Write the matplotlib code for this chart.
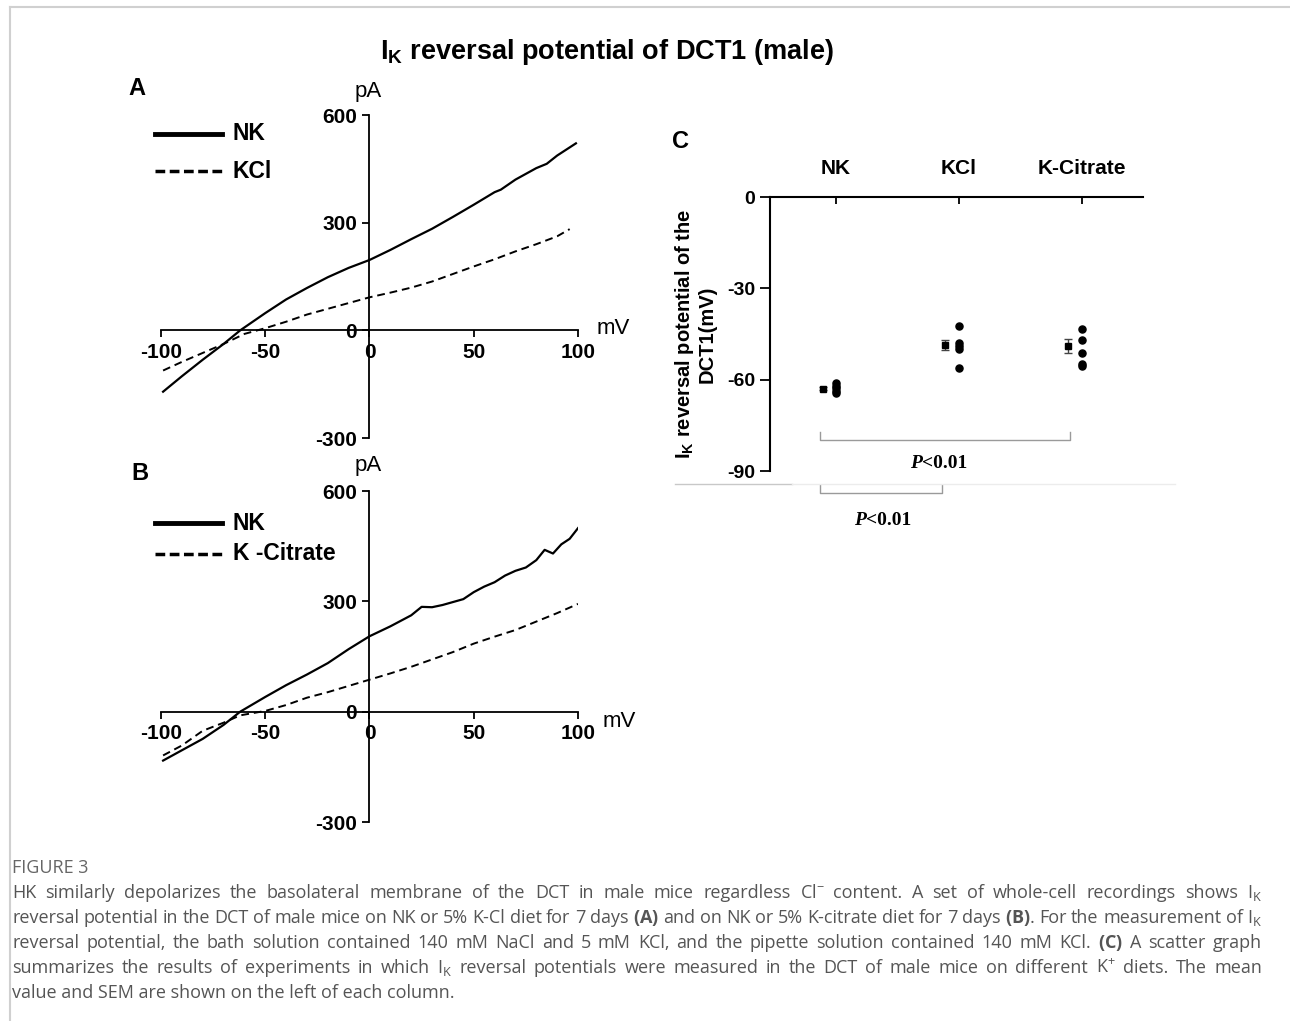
import numpy as np
import matplotlib.pyplot as plt
from matplotlib.lines import Line2D

W, H = 1290, 1021

# panel A: I-V curves, NK vs KCl (mV, pA)
a_nk_mv = [-99, -90, -80, -70, -62, -55, -50, -40, -30, -20, -10, 0, 10, 20, 30, 40, 50, 60, 63, 70, 80, 85, 90, 99]
a_nk_pa = [-171, -128, -82, -38, 0, 28, 48, 86, 118, 148, 174, 196, 224, 254, 283, 316, 350, 385, 392, 420, 452, 464, 487, 521]
a_kcl_mv = [-99, -90, -80, -70, -60, -50, -40, -30, -20, -10, 0, 10, 20, 30, 40, 50, 60, 70, 80, 90, 96]
a_kcl_pa = [-112, -88, -63, -38, -10, 6, 24, 44, 60, 76, 92, 105, 119, 136, 157, 178, 198, 220, 240, 262, 282]

# panel B: NK vs K-Citrate
b_nk_mv = [-99, -90, -80, -70, -62, -50, -40, -30, -20, -10, 0, 10, 20, 25, 30, 35, 40, 45, 50, 55, 60, 65, 70, 75, 80, 84, 88, 92, 96, 100]
b_nk_pa = [-133, -105, -74, -36, 0, 40, 72, 101, 132, 170, 205, 232, 262, 285, 284, 290, 298, 306, 325, 340, 352, 370, 383, 392, 412, 440, 430, 455, 470, 499]
b_cit_mv = [-99, -90, -80, -70, -62, -50, -40, -30, -20, -10, 0, 10, 20, 30, 40, 50, 60, 70, 80, 90, 100]
b_cit_pa = [-119, -92, -52, -30, -10, 2, 18, 38, 53, 70, 87, 104, 122, 142, 162, 185, 204, 222, 245, 268, 293]

iv_xticks = [-100, -50, 0, 50, 100]
iv_yticks = [-300, 0, 300, 600]

# panel C: reversal potentials (mV)
groups = ["NK", "KCl", "K-Citrate"]
pts_nk = [-61.2, -62.0, -62.8, -63.6, -64.5]
pts_kcl = [-42.5, -47.8, -48.9, -49.8, -56.2]
pts_cit = [-43.3, -47.0, -51.3, -54.9, -55.6]
means = [-63.0, -48.7, -49.1]
sems = [0.5, 1.7, 2.3]
c_yticks = [0, -30, -60, -90]

plt.rcParams['font.family'] = ['Liberation Sans', 'DejaVu Sans']
plt.rcParams['font.weight'] = 'bold'
plt.rcParams['axes.unicode_minus'] = False
plt.rcParams['mathtext.default'] = 'regular'
plt.rcParams['mathtext.fontset'] = 'custom'
plt.rcParams['mathtext.rm'] = 'Open Sans'
plt.rcParams['mathtext.bf'] = 'Open Sans:bold'
plt.rcParams['mathtext.it'] = 'Open Sans:italic'


def box(x0, y0, x1, y1):
    return [x0 / W, 1 - y1 / H, (x1 - x0) / W, (y1 - y0) / H]


def px(x, y):
    return x / W, 1 - y / H


def figline(xs, ys, **kw):
    fx = [x / W for x in xs]
    fy = [1 - y / H for y in ys]
    fig.add_artist(Line2D(fx, fy, transform=fig.transFigure, **kw))


fig = plt.figure(figsize=(W / 100, H / 100), dpi=100)

# frame lines
figline([10, 1290], [7, 7], color='#d0d0d0', lw=1.5)
figline([10, 10], [7, 1021], color='#d0d0d0', lw=1.5)

fig.text(*px(607, 52), "I$_K$ reversal potential of DCT1 (male)", ha='center', va='center', fontsize=19.5)


def ivPanel(rect, mv1, pa1, mv2, pa2):
    ax = fig.add_axes(rect)
    ax.plot(mv1, pa1, color='black', lw=1.6)
    ax.plot(mv2, pa2, color='black', lw=1.4, ls=(0, (4, 2.5)))
    ax.set_xlim(-100, 100)
    ax.set_ylim(-300, 600)
    ax.spines[['top', 'right']].set_visible(False)
    ax.spines['left'].set_position('zero')
    ax.spines['bottom'].set_position('zero')
    ax.spines[['left', 'bottom']].set_linewidth(1.3)
    ax.set_xticks(iv_xticks)
    ax.set_yticks(iv_yticks)
    ax.tick_params(direction='out', length=5, width=1.3, labelsize=15, pad=4)
    ax.patch.set_alpha(0)
    return ax


axA = ivPanel(box(161, 115, 578, 438), a_nk_mv, a_nk_pa, a_kcl_mv, a_kcl_pa)
axB = ivPanel(box(161, 491, 578, 822), b_nk_mv, b_nk_pa, b_cit_mv, b_cit_pa)

for (lab, x, y) in [("A", 137, 88), ("B", 140, 474), ("C", 680, 142)]:
    fig.text(*px(x, y), lab, ha='center', va='center', fontsize=17)

fig.text(*px(368, 92), "pA", ha='center', va='center', fontsize=16, fontweight='normal')
fig.text(*px(368, 465), "pA", ha='center', va='center', fontsize=16, fontweight='normal')
fig.text(*px(613, 328), "mV", ha='center', va='center', fontsize=16, fontweight='normal')
fig.text(*px(619, 721), "mV", ha='center', va='center', fontsize=16, fontweight='normal')

# hand-drawn legends
for (y, lab, dash) in [(134, "NK", False), (171, "KCl", True), (523, "NK", False), (554, "K -Citrate", True)]:
    if dash:
        figline([155, 226], [y, y], color='black', lw=2.5, ls=(0, (2.8, 1.3)))
    else:
        figline([155, 222], [y, y], color='black', lw=3.5)
    fig.text(*px(233, y), lab, ha='left', va='center', fontsize=16.5)

# panel C
axC = fig.add_axes(box(770, 197, 1143, 471))
axC.set_xlim(0.463, 3.496)
axC.set_ylim(-90, 0)
axC.spines[['bottom', 'right']].set_visible(False)
axC.spines[['left', 'top']].set_linewidth(1.5)
axC.xaxis.tick_top()
axC.set_xticks([1, 2, 3], groups)
axC.set_yticks(c_yticks)
axC.tick_params(axis='x', direction='in', length=5, width=1.3, pad=14, labelsize=15)
axC.tick_params(axis='y', direction='out', length=7, width=1.3, labelsize=14)
for i, pts in enumerate([pts_nk, pts_kcl, pts_cit]):
    axC.scatter(np.full(len(pts), i + 1), pts, s=26, color='black', zorder=3)
    axC.errorbar(i + 1 - 0.11, means[i], yerr=sems[i], fmt='s', ms=5, color='black',
                 ecolor='#444444', elinewidth=1, capsize=3, capthick=1)
axC.set_ylabel("I$_K$ reversal potential of the\nDCT1(mV)", fontsize=14.5, fontweight='bold',
               labelpad=8, linespacing=1.1)

# significance brackets
axC.plot([0.87, 0.87, 2.9, 2.9], [-77.2, -79.8, -79.8, -77.2], color='#9a9a9a', lw=1, clip_on=False)
axC.plot([0.87, 0.87, 1.86, 1.86], [-94.6, -97.2, -97.2, -94.6], color='#9a9a9a', lw=1, clip_on=False)
for (x, y) in [(1.70, -87.7), (1.24, -106.1)]:
    axC.text(x, y, "P", ha='right', va='center', fontsize=14, family='Liberation Serif', style='italic')
    axC.text(x, y, "<0.01", ha='left', va='center', fontsize=14, family='Liberation Serif')

# faint separator under panel C
figline([675, 792], [484, 484], color='#c8c8c8', lw=1)
figline([792, 1175], [484, 484], color='#ececec', lw=1)

# caption
cap = [
    "HK similarly depolarizes the basolateral membrane of the DCT in male mice regardless Cl$^{-}$ content. A set of whole-cell recordings shows I$_K$",
    "reversal potential in the DCT of male mice on NK or 5% K-Cl diet for 7 days $\\mathbf{(A)}$ and on NK or 5% K-citrate diet for 7 days $\\mathbf{(B)}$. For the measurement of I$_K$",
    "reversal potential, the bath solution contained 140 mM NaCl and 5 mM KCl, and the pipette solution contained 140 mM KCl. $\\mathbf{(C)}$ A scatter graph",
    "summarizes the results of experiments in which I$_K$ reversal potentials were measured in the DCT of male mice on different K$^{+}$ diets. The mean",
    "value and SEM are shown on the left of each column.",
]
capStyle = dict(ha='left', va='center', fontsize=13, fontweight='normal', family='Open Sans', color='#555555')
fig.text(*px(12, 868), "FIGURE 3", ha='left', va='center', fontsize=13, fontweight='normal',
         family='Open Sans', color='#666666')

renderer = fig.canvas.get_renderer()
for i, line in enumerate(cap):
    y = 893 + 25 * i
    if i == len(cap) - 1:
        fig.text(*px(12, y), line, **capStyle)
        continue
    # justified line: spread the words from x=12 to x=1262
    words = line.split(' ')
    texts = [fig.text(*px(12, y), w, **capStyle) for w in words]
    widths = [t.get_window_extent(renderer).width for t in texts]
    gap = (1250 - sum(widths)) / (len(words) - 1)
    x = 12
    for t, w in zip(texts, widths):
        t.set_x(x / W)
        x += w + gap

fig.savefig("out.png", dpi=100)
